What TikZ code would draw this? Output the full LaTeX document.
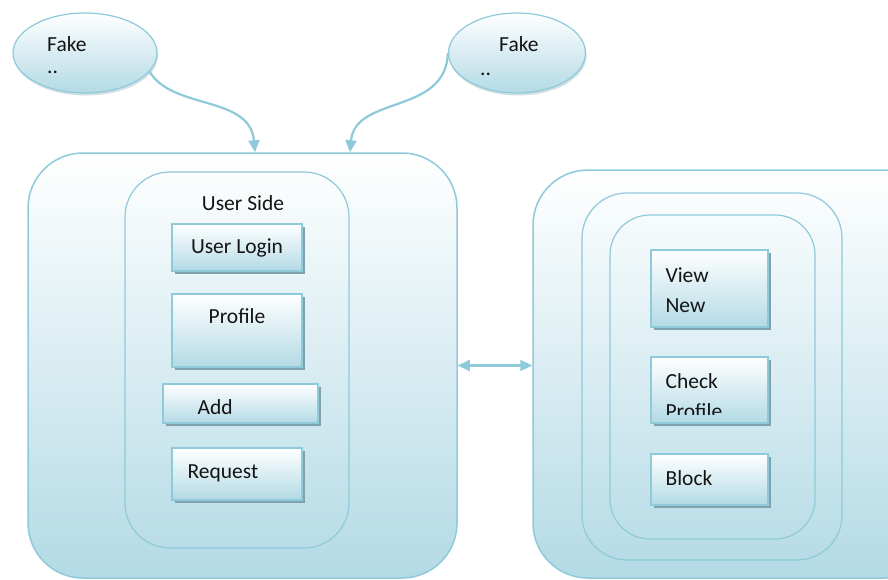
\documentclass[tikz,border=0pt]{standalone}
\usepackage{fontspec}
\setmainfont{Carlito}
\usetikzlibrary{arrows.meta, positioning, calc, shadows, shapes.geometric}
\definecolor{lineBlue}{HTML}{8FCADA}
\definecolor{fillBlue}{HTML}{B3DAE5}
\definecolor{shadeGray}{HTML}{7FA2AE}
\definecolor{inkDark}{HTML}{141414}

\begin{document}
\begin{tikzpicture}[x=1pt, y=-1pt,
    panel/.style={draw=lineBlue, line width=1.5pt, top color=white, bottom color=fillBlue,
                  rounded corners=#1, inner sep=0pt},
    ring/.style={draw=lineBlue, line width=1.2pt, rounded corners=#1, inner sep=0pt},
    btn/.style={draw=lineBlue, line width=1.2pt, top color=white, bottom color=fillBlue,
                drop shadow={shadow xshift=2.5pt, shadow yshift=-2.5pt, fill=shadeGray, opacity=1},
                inner sep=0pt, text=inkDark, font=\fontsize{21.5}{30}\selectfont},
    fake/.style={ellipse, draw=lineBlue, line width=1.2pt, top color=white, bottom color=fillBlue,
                 drop shadow={shadow xshift=1pt, shadow yshift=-2.5pt, fill=shadeGray, opacity=0.35},
                 inner sep=0pt},
    lbl/.style={inner sep=0pt, text=inkDark, font=\fontsize{21.5}{30}\selectfont, align=left},
    arr/.style={-{Triangle[length=12pt, width=11pt]}, line width=2.2pt, lineBlue},
    biarr/.style={{Triangle[length=12pt, width=11pt]}-{Triangle[length=12pt, width=11pt]},
                  line width=2.2pt, lineBlue},
  ]
    \path[use as bounding box, fill=white] (0,0) rectangle (888,579);

    % the two "Fake" bubbles
    \node[fake, minimum width=144pt, minimum height=80pt] (fakeL) at (85,53) {};
    \node[lbl, anchor=west] (fakeLtxt) at (47,44) {Fake};
    \node[lbl, anchor=base west] (fakeLdot) at (47,73) {..};
    \node[fake, minimum width=137pt, minimum height=80pt] (fakeR) at (517,53) {};
    \node[lbl, anchor=west] (fakeRtxt) at (499,44) {Fake};
    \node[lbl, anchor=base west] (fakeRdot) at (480,75) {..};

    % user side
    \node[panel=55pt, minimum width=429pt, minimum height=425pt] (userOuter) at (242.5,365.5) {};
    \node[ring=45pt, minimum width=224pt, minimum height=376pt] (userSide) at (237,360) {};
    \node[lbl] (userSideTxt) at (243,203) {User Side};
    \node[btn, minimum width=130pt, minimum height=47pt] (login) at (237,247.5) {User Login};
    \node[btn, minimum width=130pt, minimum height=73pt] (profile) at (237,330.5) {};
    \node[lbl] (profileTxt) at (237,316) {Profile};
    \node[btn, minimum width=155pt, minimum height=39pt] (add) at (240.5,403.5) {};
    \begin{scope}
      \clip (add.north west) rectangle ($(add.south east)+(0,-6)$);
      \node[lbl, anchor=west] (addTxt) at ($(add.west)+(35,4)$) {Add};
    \end{scope}
    \node[btn, minimum width=130pt, minimum height=52pt] (request) at (237,474) {};
    \node[lbl, anchor=west] (requestTxt) at ($(request.west)+(16,-1)$) {Request};

    % admin side
    \node[panel=55pt, minimum width=407pt, minimum height=408pt] (adminOuter) at (736.5,374) {};
    \node[ring=45pt, minimum width=260pt, minimum height=367pt] (adminRing) at (712,376.5) {};
    \node[ring=40pt, minimum width=205pt, minimum height=324pt] (adminInner) at (712.5,377) {};
    \node[btn, minimum width=117pt, minimum height=77pt] (viewNew) at (709.5,288.5) {};
    \node[lbl, anchor=west] (viewNewTxt) at ($(viewNew.west)+(15,1.5)$) {View\\New};
    \node[btn, minimum width=117pt, minimum height=66pt] (check) at (709.5,390) {};
    \begin{scope}
      \clip (check.north west) rectangle ($(check.south east)+(0,-9)$);
      \node[lbl, anchor=west] (checkTxt) at ($(check.west)+(15,6)$) {Check\\Profile};
    \end{scope}
    \node[btn, minimum width=117pt, minimum height=51pt] (block) at (709.5,479.5) {};
    \node[lbl, anchor=west] (blockTxt) at ($(block.west)+(15,-1.5)$) {Block};

    \coordinate (inL) at ($(userOuter.north)+(12.5,0)$);
    \coordinate (inR) at ($(userOuter.north)+(107.5,0)$);
    \draw[arr] (fakeL.-16) .. controls (172,110) and (250,95) .. (inL);
    \draw[arr] (fakeR.west) .. controls (446,115) and (355,95) .. (inR);
    \draw[biarr] (userOuter.east) -- (userOuter.east -| adminOuter.west);
  \end{tikzpicture}
\end{document}
